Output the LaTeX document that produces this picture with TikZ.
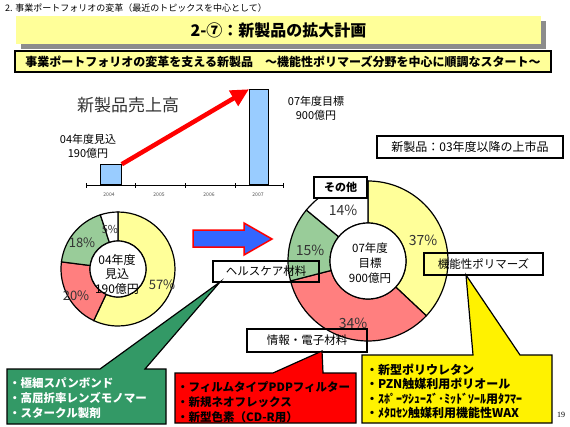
\documentclass[tikz,border=0pt]{standalone}
\usepackage{fontspec}
\setmainfont{Noto Sans CJK JP}
\newfontfamily\pagefont{Liberation Serif}
\usetikzlibrary{arrows.meta,shadows}
\definecolor{paleyellow}{HTML}{FFFF99}
\definecolor{barblue}{HTML}{99CCFF}
\definecolor{piered}{HTML}{FF7F7F}
\definecolor{piegreen}{HTML}{99CC99}
\definecolor{arrowblue}{HTML}{3366FF}
\definecolor{calloutgreen}{HTML}{339966}
\begin{document}
\begin{tikzpicture}[x=1pt, y=-1pt,
    titlebox/.style={fill=paleyellow, minimum width=525pt, minimum height=28pt,
        drop shadow={shadow xshift=5pt, shadow yshift=-5pt, fill=black!45, opacity=1}},
    labelbox/.style={draw=black, line width=1.2pt, inner sep=1pt, font=\fontsize{11.5}{12}\selectfont},
    pct/.style={text=black!80, inner sep=0pt, font=\fontsize{13}{13}\selectfont},
    yearlbl/.style={text=black!70, inner sep=0pt, font=\fontsize{5}{5}\selectfont},
    bar/.style={fill=barblue, draw=black, line width=0.8pt},
    slice/.style={draw=black, line width=1.2pt},
    callout/.style={draw=black, line width=1.2pt},
    callouttext/.style={anchor=west, align=left, inner sep=0pt, font=\bfseries\fontsize{11.5}{15}\selectfont}
]
    \useasboundingbox (0,0) rectangle (570,426);

    % headings
    \node[anchor=west, inner sep=0pt, font=\fontsize{9}{9}\selectfont] at (5,8) (head) {2. 事業ポートフォリオの変革（最近のトピックスを中心として）};
    \node[titlebox] at (278.5,30) (title) {\bfseries\fontsize{16}{16}\selectfont 2-⑦：新製品の拡大計画};
    \node[draw=black, line width=1.2pt, fill=paleyellow, minimum width=536pt, minimum height=21pt,
        font=\bfseries\fontsize{12}{12}\selectfont] at (283,61.5) (sub) {事業ポートフォリオの変革を支える新製品　～機能性ポリマーズ分野を中心に順調なスタート～};

    % sales bar chart
    \node[text=black!80, font=\fontsize{17}{17}\selectfont] at (128,105) (charttitle) {新製品売上高};
    \node[bar, anchor=south west, minimum width=21pt, minimum height=20pt, inner sep=0pt] at (100,185) (bar04) {};
    \node[bar, anchor=south west, minimum width=19pt, minimum height=95pt, inner sep=0pt] at (249,185) (bar07) {};
    \draw[line width=0.8pt] (86,185) -- (283,185);
    \foreach \x in {86,135,185,235,283}
        \draw[line width=0.6pt] (\x,183) -- (\x,188);
    \node[yearlbl] at (109,195) (y04) {2004};
    \node[yearlbl] at (159,195) (y05) {2005};
    \node[yearlbl] at (209,195) (y06) {2006};
    \node[yearlbl] at (258,195) (y07) {2007};
    \node[align=center, inner sep=0pt, font=\fontsize{11}{14}\selectfont] at (88,146) (val04) {04年度見込\\190億円};
    \node[align=center, inner sep=0pt, font=\fontsize{11}{14}\selectfont] at (316,108) (val07) {07年度目標\\900億円};
    \draw[red, line width=4.5pt, -{Triangle[length=18pt, width=17pt]}] (bar04.north east) -- (bar07.north west);

    \node[draw=black, line width=1.2pt, minimum width=186pt, minimum height=22pt,
        font=\fontsize{12}{12}\selectfont] at (470,147) (note) {新製品：03年度以降の上市品};

    % 04 donut
    \begin{scope}[shift={(118,269)}, yscale=-1]
        \foreach \a/\b/\c in {90/-115.2/paleyellow, -115.2/-187.2/piered, -187.2/-252/piegreen, -252/-270/white}
            \filldraw[slice, fill=\c] (\a:28) -- (\a:57) arc[start angle=\a, end angle=\b, radius=57] -- (\b:28) arc[start angle=\b, end angle=\a, radius=28] -- cycle;
        \draw[slice, fill=white] (0,0) circle[radius=28];
    \end{scope}
    \node[pct] at (162,285) (p57) {57\%};
    \node[pct] at (76,296) (p20) {20\%};
    \node[pct] at (82,243) (p18) {18\%};
    \node[pct, font=\fontsize{11}{11}\selectfont] at (110,229) (p5) {5\%};
    \node[align=center, inner sep=0pt, font=\fontsize{12}{14.5}\selectfont] at (117,274) (c04) {04年度\\見込\\190億円};

    % growth arrow
    \filldraw[fill=arrowblue, draw=red, line width=1.5pt] (193,230) -- (244,230) -- (244,223) -- (272,239) -- (244,255) -- (244,247) -- (193,247) -- cycle;

    % 07 donut
    \begin{scope}[shift={(368,261)}, yscale=-1]
        \foreach \a/\b/\c in {90/-43.2/paleyellow, -43.2/-165.6/piered, -165.6/-219.6/piegreen, -219.6/-270/white}
            \filldraw[slice, fill=\c] (\a:38) -- (\a:80) arc[start angle=\a, end angle=\b, radius=80] -- (\b:38) arc[start angle=\b, end angle=\a, radius=38] -- cycle;
        \draw[slice, fill=white] (0,0) circle[radius=38];
    \end{scope}
    \node[pct, font=\fontsize{14}{14}\selectfont] at (423,240) (p37) {37\%};
    \node[pct, font=\fontsize{14}{14}\selectfont] at (353,323) (p34) {34\%};
    \node[pct, font=\fontsize{14}{14}\selectfont] at (310,250) (p15) {15\%};
    \node[pct, font=\fontsize{14}{14}\selectfont] at (343,210) (p14) {14\%};
    \node[align=center, inner sep=0pt, font=\fontsize{11.5}{15}\selectfont] at (370,263) (c07) {07年度\\目標\\900億円};

    % segment labels
    \node[labelbox, minimum width=53pt, minimum height=21pt, fill=white, font=\bfseries\fontsize{11}{11}\selectfont] at (340.5,187.5) (other) {その他};
    \node[labelbox, minimum width=106pt, minimum height=21pt] at (266,271.5) (health) {ヘルスケア材料};
    \node[labelbox, minimum width=120pt, minimum height=23pt] at (307,340.5) (info) {情報・電子材料};
    \node[labelbox, minimum width=119pt, minimum height=22pt] at (483.5,264) (func) {機能性ポリマーズ};

    % callouts
    \coordinate (gtip) at (220,282);
    \coordinate (rtip) at (322,351);
    \coordinate (ytip) at (466,275);
    \filldraw[callout, fill=calloutgreen] (7,369) -- (100,369) -- (gtip) -- (145,369) -- (166,369) -- (166,424) -- (7,424) -- cycle;
    \filldraw[callout, fill=red] (175,373) -- (273,373) -- (rtip) -- (323,373) -- (356,373) -- (356,423) -- (175,423) -- cycle;
    \filldraw[callout, fill=yellow] (362,355) -- (473,355) -- (ytip) -- (520,355) -- (552,355) -- (552,423) -- (362,423) -- cycle;
    \node[callouttext, text=white] at (9,398) (gtext) {・極細スパンボンド\\・高屈折率レンズモノマー\\・スタークル製剤};
    \node[callouttext] at (177,402) (rtext) {・フィルムタイプPDPフィルター\\・新規ネオフレックス\\・新型色素（CD-R用）};
    \node[callouttext, font=\bfseries\fontsize{12}{14.5}\selectfont] at (366,391.5) (ytext) {・新型ポリウレタン\\・PZN触媒利用ポリオール\\・ｽﾎﾟｰﾂｼｭｰｽﾞ･ﾐｯﾄﾞｿｰﾙ用ﾀﾌﾏｰ\\・ﾒﾀﾛｾﾝ触媒利用機能性WAX};

    \node[inner sep=0pt, font=\pagefont\fontsize{8}{8}\selectfont] at (561,415) (page) {19};
\end{tikzpicture}
\end{document}
